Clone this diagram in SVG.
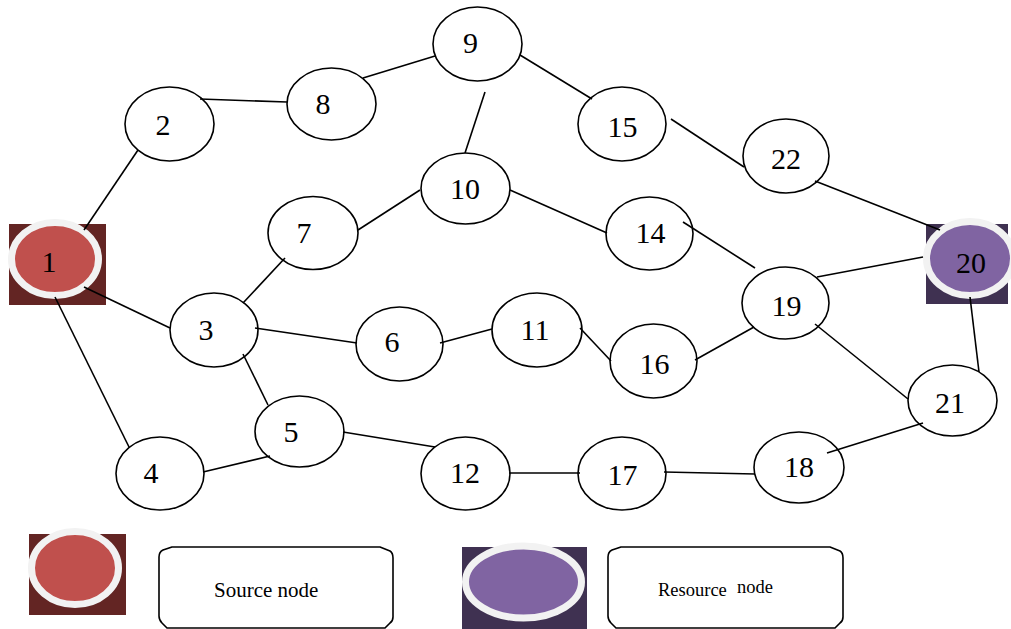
<svg xmlns="http://www.w3.org/2000/svg" width="1011" height="629" viewBox="0 0 1011 629">
<style>
.n ellipse{fill:#fff;stroke:#000;stroke-width:1.6}
.t{font-family:"Liberation Serif","Times New Roman",serif;font-size:30px;fill:#000;text-anchor:middle}
.ring{stroke:#f2f2f2;stroke-width:7}
#connectors line{stroke:#000;stroke-width:1.6}
.box{fill:#fff;stroke:#000;stroke-width:1.6;stroke-linejoin:round}
.lt{font-family:"Liberation Serif","Times New Roman",serif;fill:#000}
</style>
<rect width="1011" height="629" fill="#fff"/>

<g id="node-1">
<rect x="9" y="224" width="97" height="81" fill="#632523"/>
<ellipse class="ring" cx="55" cy="259" rx="43.5" ry="36.5" fill="#c0504d"/>
<text class="t" x="49" y="272">1</text>
</g>
<g id="node-20">
<rect x="926" y="224" width="82" height="80" fill="#3f3151"/>
<ellipse class="ring" cx="970" cy="258.5" rx="43.5" ry="37" fill="#8064a2"/>
<text class="t" x="971" y="273">20</text>
</g>
<g id="node-2" class="n"><ellipse cx="169.5" cy="124" rx="44.5" ry="37"/><text class="t" x="163" y="135">2</text></g>
<g id="node-8" class="n"><ellipse cx="331.5" cy="104" rx="44.5" ry="36"/><text class="t" x="323" y="114">8</text></g>
<g id="node-9" class="n"><ellipse cx="477.5" cy="44" rx="44.5" ry="37"/><text class="t" x="470.5" y="53">9</text></g>
<g id="node-10" class="n"><ellipse cx="465.5" cy="188.5" rx="44.5" ry="35.5"/><text class="t" x="465" y="199">10</text></g>
<g id="node-7" class="n"><ellipse cx="313" cy="233" rx="45" ry="36.5"/><text class="t" x="304" y="243">7</text></g>
<g id="node-15" class="n"><ellipse cx="622" cy="124" rx="44" ry="37"/><text class="t" x="622.5" y="137">15</text></g>
<g id="node-22" class="n"><ellipse cx="786" cy="156" rx="43" ry="37"/><text class="t" x="786" y="169">22</text></g>
<g id="node-14" class="n"><ellipse cx="649.5" cy="233.5" rx="43.5" ry="36.5"/><text class="t" x="650.5" y="243">14</text></g>
<g id="node-19" class="n"><ellipse cx="785.5" cy="303" rx="43.5" ry="36"/><text class="t" x="786.5" y="316">19</text></g>
<g id="node-3" class="n"><ellipse cx="214" cy="330" rx="44" ry="37"/><text class="t" x="206" y="340">3</text></g>
<g id="node-6" class="n"><ellipse cx="399.5" cy="344" rx="43.5" ry="37"/><text class="t" x="392" y="352">6</text></g>
<g id="node-11" class="n"><ellipse cx="537" cy="330" rx="45" ry="37"/><text class="t" x="535" y="340">11</text></g>
<g id="node-16" class="n"><ellipse cx="653.5" cy="361" rx="43.5" ry="37"/><text class="t" x="654.5" y="374">16</text></g>
<g id="node-5" class="n"><ellipse cx="299.5" cy="431.5" rx="44.5" ry="35.5"/><text class="t" x="291" y="442">5</text></g>
<g id="node-4" class="n"><ellipse cx="160" cy="473.5" rx="44" ry="36.5"/><text class="t" x="151" y="483">4</text></g>
<g id="node-12" class="n"><ellipse cx="465.5" cy="473.5" rx="44.5" ry="36.5"/><text class="t" x="465" y="483">12</text></g>
<g id="node-17" class="n"><ellipse cx="622" cy="473.5" rx="44" ry="36.5"/><text class="t" x="622.5" y="485">17</text></g>
<g id="node-18" class="n"><ellipse cx="799" cy="467.5" rx="45" ry="35.5"/><text class="t" x="799" y="477">18</text></g>
<g id="node-21" class="n"><ellipse cx="952.5" cy="400.5" rx="44.5" ry="35.5"/><text class="t" x="950" y="413">21</text></g>

<g id="connectors">
<line x1="84" y1="230" x2="138" y2="150"/>
<line x1="200" y1="99" x2="287" y2="102"/>
<line x1="363" y1="78" x2="435" y2="56"/>
<line x1="520" y1="55" x2="592" y2="99"/>
<line x1="485" y1="92" x2="465" y2="153"/>
<line x1="510" y1="190" x2="607" y2="233"/>
<line x1="358" y1="230" x2="420" y2="190"/>
<line x1="671" y1="119" x2="744" y2="167"/>
<line x1="815" y1="181" x2="940" y2="230"/>
<line x1="683" y1="222" x2="755" y2="268"/>
<line x1="817" y1="277" x2="923" y2="257"/>
<line x1="970" y1="297" x2="979" y2="372"/>
<line x1="84" y1="287" x2="170" y2="328"/>
<line x1="55" y1="297" x2="129" y2="447"/>
<line x1="243" y1="303" x2="285" y2="258"/>
<line x1="255" y1="328" x2="357" y2="343"/>
<line x1="243" y1="354" x2="268" y2="405"/>
<line x1="440" y1="343" x2="492" y2="329"/>
<line x1="580" y1="328" x2="611" y2="361"/>
<line x1="695" y1="360" x2="754" y2="327"/>
<line x1="815" y1="324" x2="908" y2="399"/>
<line x1="923" y1="423" x2="827" y2="453"/>
<line x1="664" y1="472" x2="755" y2="474"/>
<line x1="509" y1="473" x2="580" y2="473"/>
<line x1="203" y1="472" x2="270" y2="456"/>
<line x1="343" y1="432" x2="435" y2="447"/>
</g>

<g id="legend-source">
<rect x="29" y="534" width="97" height="81" fill="#632523"/>
<ellipse class="ring" cx="75" cy="568" rx="43.5" ry="36.5" fill="#c0504d"/>
<path class="box" d="M159,557 Q159,552 163,550 L172,547 L380,547 L390,551 Q393,553 393,558 L393,617 Q393,621 390,623 L385,628 L167,628 L162,623 Q159,620 159,616 Z"/>
<text class="lt" x="214" y="597" font-size="21">Source node</text>
</g>
<g id="legend-resource">
<rect x="462" y="547" width="125" height="82" fill="#3f3151"/>
<ellipse class="ring" cx="523.5" cy="582" rx="58" ry="36" fill="#8064a2"/>
<path class="box" d="M608,557 Q608,552 612,550 L621,547 L830,547 L840,551 Q843,553 843,558 L843,617 Q843,621 840,623 L835,628 L616,628 L611,623 Q608,620 608,616 Z"/>
<text class="lt" x="658" y="596" font-size="18.5">Resource</text>
<text class="lt" x="737" y="593" font-size="18.5">node</text>
</g>
</svg>
